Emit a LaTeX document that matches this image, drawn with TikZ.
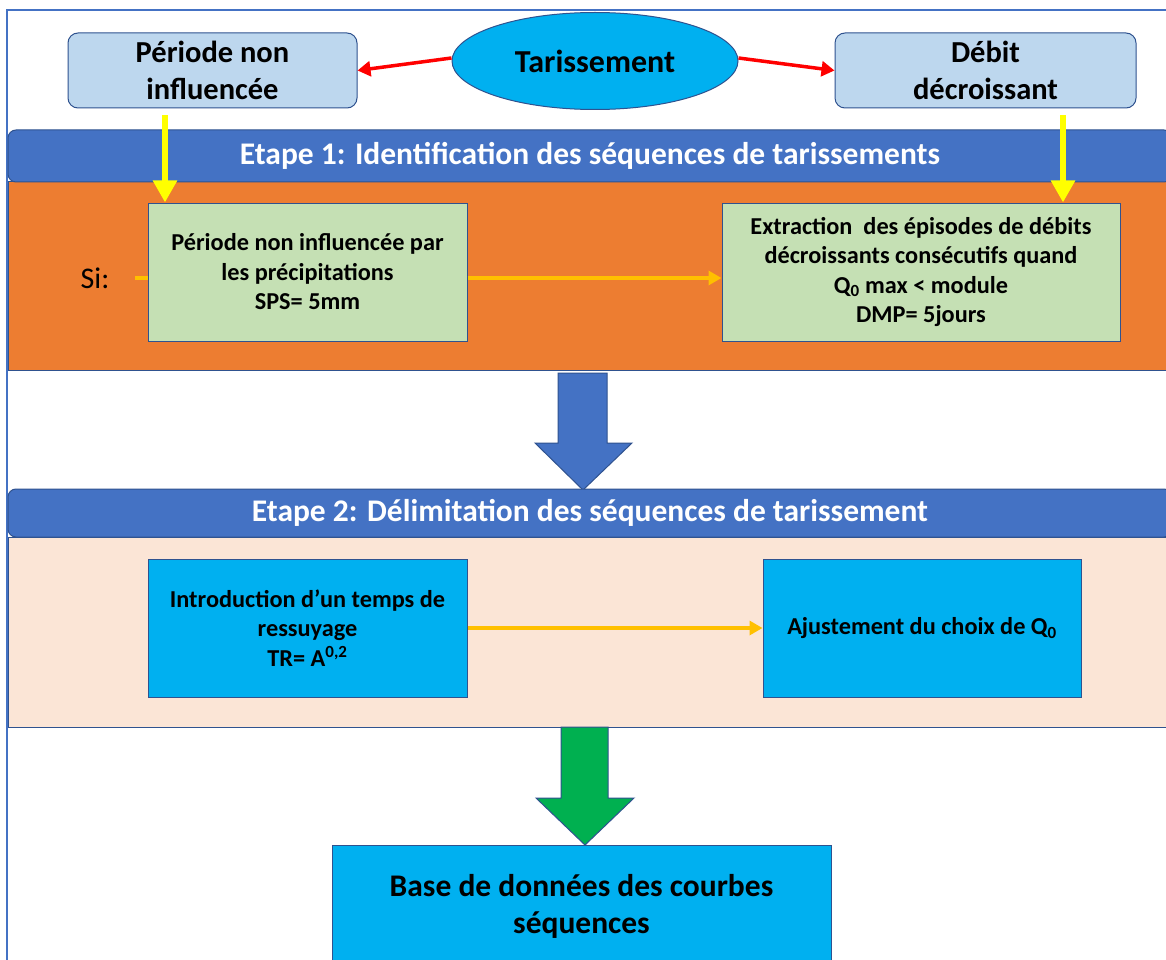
\documentclass[tikz,border=0pt]{standalone}
\usepackage{fontspec}
\setmainfont{Carlito}
\usetikzlibrary{shapes.geometric,arrows.meta}
\definecolor{lblue}{HTML}{BDD7EE}
\definecolor{edgeblue}{HTML}{2F528F}
\definecolor{band}{HTML}{4472C4}
\definecolor{orng}{HTML}{ED7D31}
\definecolor{peach}{HTML}{FBE5D6}
\definecolor{lgreen}{HTML}{C5E0B4}
\definecolor{cyanb}{HTML}{00B0F0}
\definecolor{gold}{HTML}{FFC000}
\definecolor{grn}{HTML}{00B050}
\definecolor{redarr}{HTML}{FF0000}
\definecolor{yel}{HTML}{FFFF00}
\definecolor{framec}{HTML}{4472C4}
\tikzset{
  topbox/.style={rectangle, rounded corners=10pt, fill=lblue, draw=edgeblue, line width=1pt,
    inner sep=0pt, align=center, font=\bfseries\fontsize{30.5}{37}\selectfont},
  hdrband/.style={rectangle, rounded corners=8pt, fill=band, draw=edgeblue, line width=1pt,
    inner sep=0pt, text=white, font=\bfseries\fontsize{31.5}{36}\selectfont},
  zonebox/.style={rectangle, draw=edgeblue, line width=1pt, inner sep=0pt},
  procbox/.style={rectangle, draw=edgeblue, line width=1pt, inner sep=0pt, align=center,
    font=\bfseries\fontsize{24.3}{29.5}\selectfont},
  redarrow/.style={draw=redarr, line width=3.5pt, -{Triangle[length=13pt,width=15pt]}},
  yelarrow/.style={draw=yel, line width=6.5pt, -{Triangle[length=22pt,width=23pt]}},
  goldarrow/.style={draw=gold, line width=4pt, -{Triangle[length=13pt,width=14pt]}},
  goldline/.style={draw=gold, line width=4pt},
  bigarrow/.style={draw=edgeblue, line width=1pt},
}
\begin{document}
\begin{tikzpicture}[x=1pt,y=-1pt]
\useasboundingbox (0,0) rectangle (1166,960);
\clip (0,0) rectangle (1166,960);
\fill[white] (0,0) rectangle (1166,960);
% frame
\draw[framec, line width=1.2pt] (7,975) -- (7,10) -- (1180,10);

% top row
\node[topbox, minimum width=289pt, minimum height=75pt] (tl) at (212.5,70.5) {Période non\\influencée};
\node[ellipse, fill=cyanb, draw=edgeblue, line width=1pt, minimum width=286pt, minimum height=97pt,
  inner sep=0pt, font=\bfseries\fontsize{32}{36}\selectfont] (ell) at (595,61) {Tarissement};
\node[topbox, minimum width=301pt, minimum height=75pt] (tr) at (985.5,70.5) {Débit\\décroissant};
\draw[redarrow] ([yshift=3pt]ell.west) -- (tl.east);
\draw[redarrow] ([yshift=3pt]ell.east) -- (tr.west);

% stage 1
\node[zonebox, fill=orng, minimum width=1172pt, minimum height=188pt] (zone1) at (594,276) {};
\node[hdrband, minimum width=1164pt, minimum height=52pt] (hdr1) at (590,156)
  {Etape 1: Identification des séquences de tarissements};
\node[procbox, fill=lgreen, minimum width=319pt, minimum height=138pt] (g1) at (307.5,272)
  {Période non influencée par\\les précipitations\\SPS= 5mm};
\node[procbox, fill=lgreen, minimum width=398pt, minimum height=138pt] (g2) at (921,272)
  {Extraction\ \ des épisodes de débits\\décroissants consécutifs quand\\Q\textsubscript{0} max < module\\DMP= 5jours};
\node[font=\fontsize{30}{34}\selectfont, inner sep=0pt] (si) at (95,278) {Si:};
\draw[goldline] ([xshift=25pt]si.east) -- (si.east -| g1.west);
\draw[goldarrow] (si.east -| g1.east) -- (si.east -| g2.west);
\coordinate (ya1) at (165,115);
\coordinate (ya2) at (1063,115);
\draw[yelarrow] (ya1) -- (ya1 |- g1.north);
\draw[yelarrow] (ya2) -- (ya2 |- g2.north);

% big blue arrow
\filldraw[bigarrow, fill=band] (558,373) -- (607,373) -- (607,443) -- (632,443) -- (583,490)
  -- (535,443) -- (558,443) -- cycle;

% stage 2
\node[zonebox, fill=peach, minimum width=1172pt, minimum height=190pt] (zone2) at (594,632) {};
\node[hdrband, minimum width=1164pt, minimum height=48pt] (hdr2) at (590,513)
  {Etape 2: Délimitation des séquences de tarissement};
\node[procbox, fill=cyanb, minimum width=319pt, minimum height=138pt] (b1) at (307.5,628)
  {Introduction d’un temps de\\ressuyage\\TR= A\textsuperscript{0,2}};
\node[procbox, fill=cyanb, minimum width=318pt, minimum height=138pt] (b2) at (922,628)
  {Ajustement du choix de Q\textsubscript{0}};
\draw[goldarrow] (b1.east) -- (b2.west);

% green arrow
\filldraw[bigarrow, fill=grn] (561,727) -- (608,727) -- (608,798) -- (634,798) -- (585,845)
  -- (536,798) -- (561,798) -- cycle;

% result
\node[procbox, fill=cyanb, minimum width=499pt, minimum height=122pt,
  font=\bfseries\fontsize{31.5}{37}\selectfont] (res) at (581.5,906)
  {Base de données des courbes\\séquences};
\end{tikzpicture}
\end{document}
